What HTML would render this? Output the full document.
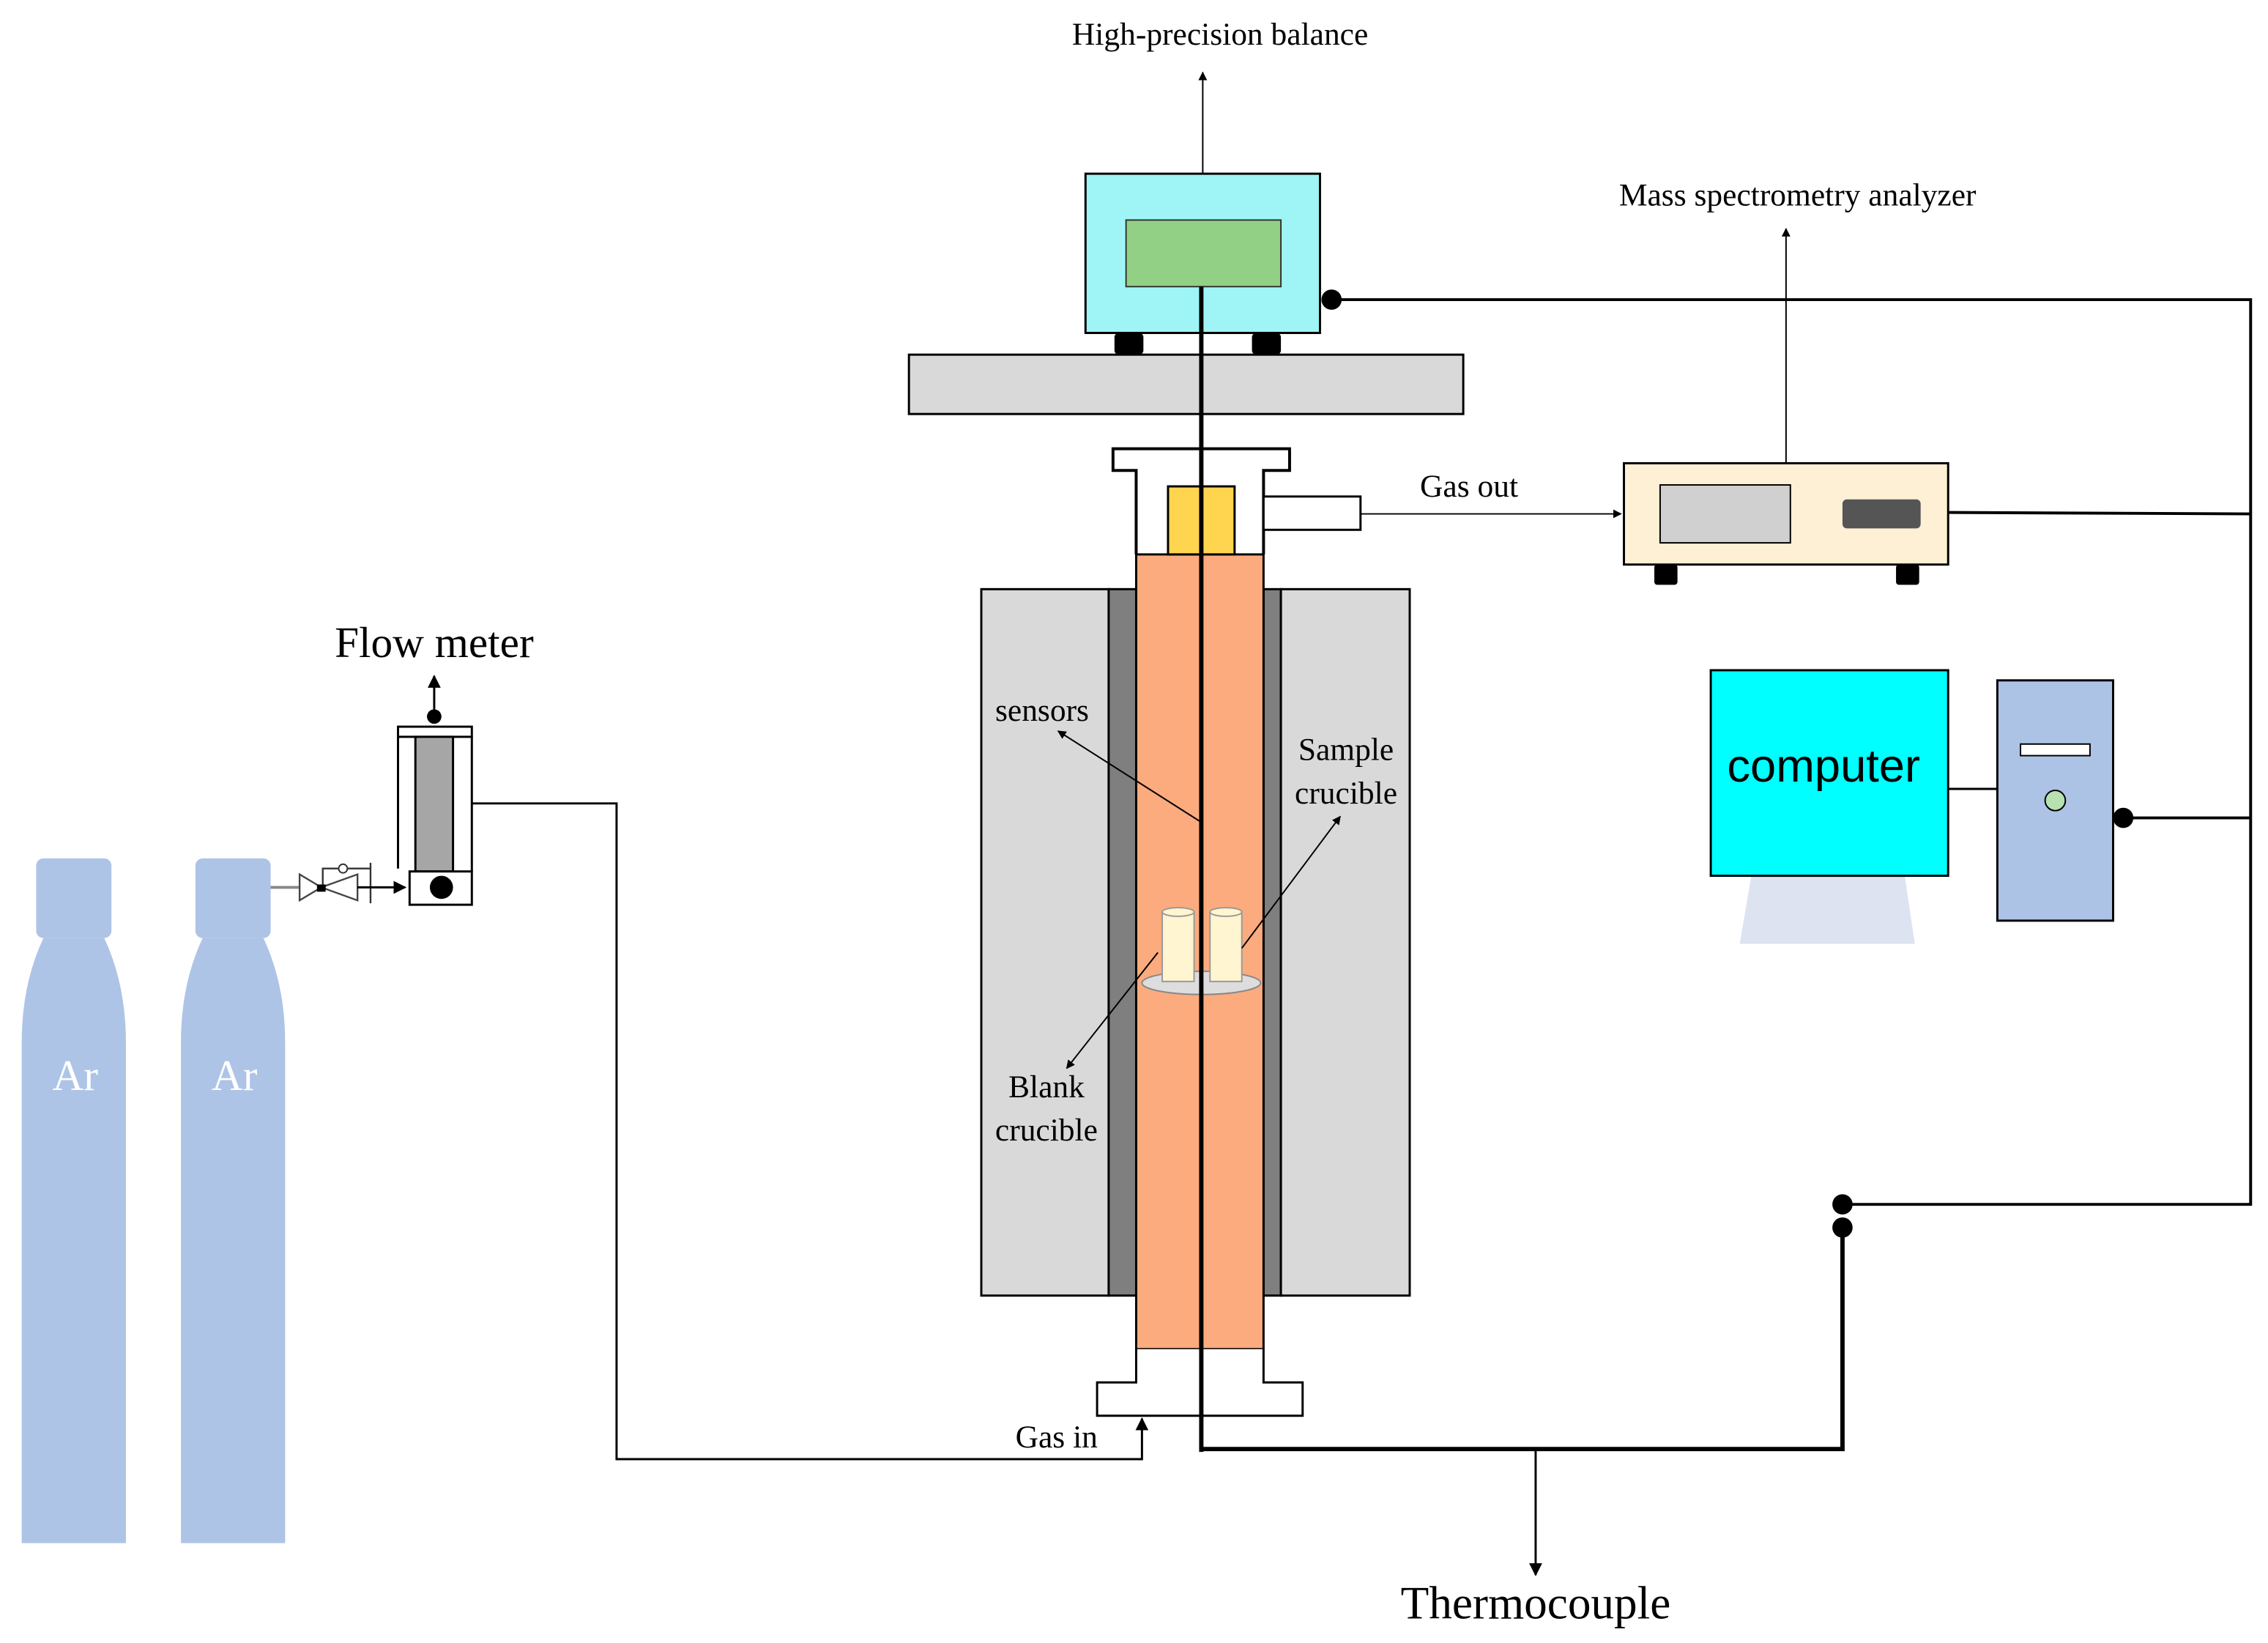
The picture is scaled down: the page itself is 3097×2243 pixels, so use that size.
<!DOCTYPE html>
<html><head><meta charset="utf-8"><style>html,body{margin:0;padding:0;background:#fff}svg{display:block}</style></head>
<body>
<svg width="3097" height="2243" viewBox="0 0 1567 1135" preserveAspectRatio="none" xmlns="http://www.w3.org/2000/svg" font-family="'Liberation Serif', serif">
<defs>
<marker id="a" viewBox="0 0 10 10" refX="9" refY="5" markerWidth="6" markerHeight="6" orient="auto"><path d="M0,0 L10,5 L0,10 z" fill="#000"/></marker>
</defs>
<g fill="#aec4e6">
<rect x="25" y="593" width="52" height="55" rx="5"/>
<path d="M30,648 L72,648 Q87,680 87,720 L87,1066 L15,1066 L15,720 Q15,680 30,648 z"/>
<rect x="135" y="593" width="52" height="55" rx="5"/>
<path d="M140,648 L182,648 Q197,680 197,720 L197,1066 L125,1066 L125,720 Q125,680 140,648 z"/>
</g>
<text x="52" y="753" font-size="30" fill="#fff" text-anchor="middle">Ar</text>
<text x="162" y="753" font-size="30" fill="#fff" text-anchor="middle">Ar</text>
<line x1="187" y1="613" x2="207" y2="613" stroke="#888" stroke-width="2"/>
<path d="M207,604 L222,613 L207,622 z M222,613 L247,604 L247,622 z" fill="none" stroke="#444" stroke-width="1.2"/>
<rect x="219" y="611" width="6" height="5" fill="#000"/>
<path d="M223,611 L223,600 L256,600 M256,596 L256,624" fill="none" stroke="#333" stroke-width="1.2"/>
<circle cx="237" cy="600" r="3" fill="#fff" stroke="#333"/>
<line x1="247" y1="613" x2="280" y2="613" stroke="#000" stroke-width="1.5" marker-end="url(#a)"/>
<rect x="275" y="502" width="51" height="7" fill="#fff" stroke="#000" stroke-width="1.5"/>
<line x1="275" y1="509" x2="275" y2="600" stroke="#000" stroke-width="1.5"/>
<line x1="326" y1="509" x2="326" y2="602" stroke="#000" stroke-width="1.5"/>
<rect x="287" y="509" width="26" height="93" fill="#a6a6a6" stroke="#000" stroke-width="1.5"/>
<rect x="283" y="602" width="43" height="23" fill="#fff" stroke="#000" stroke-width="1.5"/>
<circle cx="305" cy="613" r="8" fill="#000"/>
<circle cx="300" cy="495" r="5" fill="#000"/>
<line x1="300" y1="495" x2="300" y2="467" stroke="#000" stroke-width="1.5" marker-end="url(#a)"/>
<text x="300" y="454" font-size="30" text-anchor="middle">Flow meter</text>
<polyline points="326,555 426,555 426,1008 789,1008 789,980" fill="none" stroke="#000" stroke-width="1.5" marker-end="url(#a)"/>
<text x="730" y="1000" font-size="22" text-anchor="middle">Gas in</text>
<rect x="678" y="407" width="88" height="488" fill="#d9d9d9" stroke="#000" stroke-width="1.5"/>
<rect x="766" y="407" width="19" height="488" fill="#7f7f7f" stroke="#000" stroke-width="1.5"/>
<rect x="873" y="407" width="12" height="488" fill="#7f7f7f" stroke="#000" stroke-width="1.5"/>
<rect x="885" y="407" width="89" height="488" fill="#d9d9d9" stroke="#000" stroke-width="1.5"/>
<rect x="785" y="383" width="88" height="549" fill="#fbab7e" stroke="#000" stroke-width="1.5"/>
<path d="M785,383 L785,325 L769,325 L769,310 L891,310 L891,325 L873,325 L873,383" fill="none" stroke="#000" stroke-width="2"/>
<rect x="807" y="336" width="46" height="47" fill="#ffd54f" stroke="#000" stroke-width="1.5"/>
<rect x="873" y="343" width="67" height="23" fill="#fff" stroke="#000" stroke-width="1.5"/>
<path d="M785,932 L785,955 L758,955 L758,978 L900,978 L900,955 L873,955 L873,932" fill="#fff" stroke="#000" stroke-width="1.5"/>
<ellipse cx="830" cy="679" rx="41" ry="8" fill="#ddd" stroke="#888"/>
<rect x="803" y="630" width="22" height="48" fill="#fff5d0" stroke="#999"/>
<ellipse cx="814" cy="630" rx="11" ry="3" fill="#fff5d0" stroke="#999"/>
<rect x="836" y="630" width="22" height="48" fill="#fff5d0" stroke="#999"/>
<ellipse cx="847" cy="630" rx="11" ry="3" fill="#fff5d0" stroke="#999"/>
<rect x="628" y="245" width="383" height="41" fill="#d9d9d9" stroke="#000" stroke-width="1.5"/>
<rect x="770" y="230" width="20" height="15" fill="#000" rx="3"/>
<rect x="865" y="230" width="20" height="15" fill="#000" rx="3"/>
<rect x="750" y="120" width="162" height="110" fill="#9ff5f5" stroke="#000" stroke-width="1.5"/>
<rect x="778" y="152" width="107" height="46" fill="#92d085" stroke="#333"/>
<line x1="831" y1="120" x2="831" y2="50" stroke="#000" stroke-width="1" marker-end="url(#a)"/>
<text x="843" y="31" font-size="22" text-anchor="middle">High-precision balance</text>
<line x1="830" y1="198" x2="830" y2="1003" stroke="#000" stroke-width="3"/>
<text x="720" y="498" font-size="22" text-anchor="middle">sensors</text>
<line x1="830" y1="568" x2="731" y2="505" stroke="#000" stroke-width="1" marker-end="url(#a)"/>
<text x="930" y="525" font-size="22" text-anchor="middle">Sample</text>
<text x="930" y="555" font-size="22" text-anchor="middle">crucible</text>
<line x1="858" y1="655" x2="926" y2="564" stroke="#000" stroke-width="1" marker-end="url(#a)"/>
<text x="723" y="758" font-size="22" text-anchor="middle">Blank</text>
<text x="723" y="788" font-size="22" text-anchor="middle">crucible</text>
<line x1="800" y1="658" x2="737" y2="738" stroke="#000" stroke-width="1" marker-end="url(#a)"/>
<line x1="940" y1="355" x2="1120" y2="355" stroke="#000" stroke-width="1" marker-end="url(#a)"/>
<text x="1015" y="343" font-size="22" text-anchor="middle">Gas out</text>
<rect x="1143" y="390" width="16" height="14" fill="#000" rx="2"/>
<rect x="1310" y="390" width="16" height="14" fill="#000" rx="2"/>
<rect x="1122" y="320" width="224" height="70" fill="#fdf0d5" stroke="#000" stroke-width="1.5"/>
<rect x="1147" y="335" width="90" height="40" fill="#d0d0d0" stroke="#000"/>
<rect x="1273" y="345" width="54" height="20" fill="#555" rx="3"/>
<line x1="1234" y1="320" x2="1234" y2="158" stroke="#000" stroke-width="1" marker-end="url(#a)"/>
<text x="1242" y="142" font-size="22" text-anchor="middle">Mass spectrometry analyzer</text>
<circle cx="920" cy="207" r="7" fill="#000"/>
<polyline points="920,207 1555,207 1555,832 1273,832" fill="none" stroke="#000" stroke-width="2"/>
<line x1="1346" y1="354" x2="1555" y2="355" stroke="#000" stroke-width="2"/>
<line x1="1467" y1="565" x2="1555" y2="565" stroke="#000" stroke-width="2"/>
<circle cx="1467" cy="565" r="7" fill="#000"/>
<circle cx="1273" cy="832" r="7" fill="#000"/>
<circle cx="1273" cy="848" r="7" fill="#000"/>
<polyline points="1273,848 1273,1001 830,1001" fill="none" stroke="#000" stroke-width="3"/>
<line x1="1061" y1="1001" x2="1061" y2="1088" stroke="#000" stroke-width="1.5" marker-end="url(#a)"/>
<text x="1061" y="1118" font-size="32" text-anchor="middle">Thermocouple</text>
<path d="M1210,605 L1316,605 L1323,652 L1202,652 z" fill="#dde3f0"/>
<rect x="1182" y="463" width="164" height="142" fill="#00ffff" stroke="#000" stroke-width="1.5"/>
<text x="1260" y="540" font-size="32" text-anchor="middle" font-family="'Liberation Sans', sans-serif">computer</text>
<line x1="1346" y1="545" x2="1380" y2="545" stroke="#000" stroke-width="1.5"/>
<rect x="1380" y="470" width="80" height="166" fill="#adc3e6" stroke="#000" stroke-width="1.5"/>
<rect x="1396" y="514" width="48" height="8" fill="#fff" stroke="#000"/>
<circle cx="1420" cy="553" r="7" fill="#b8e0b0" stroke="#000"/>
</svg>
</body></html>
